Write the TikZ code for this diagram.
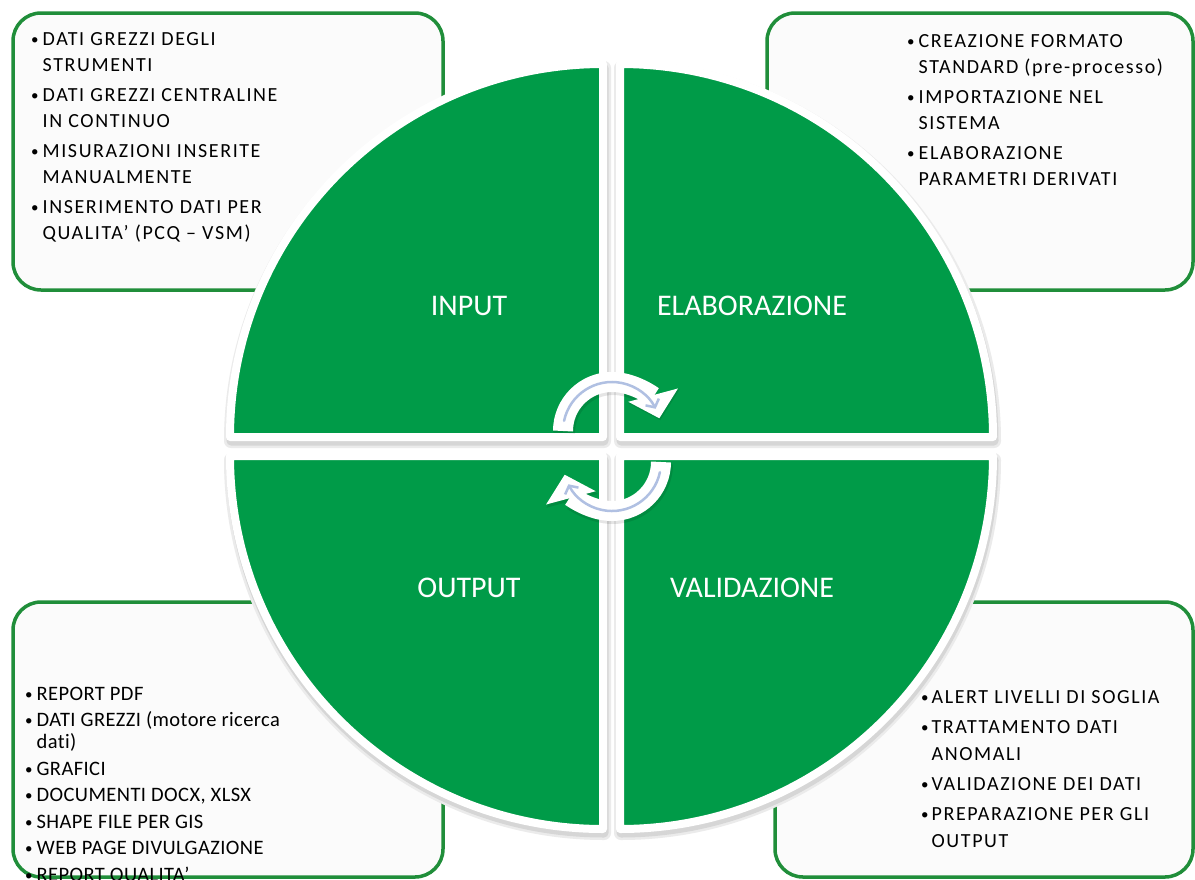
\documentclass[tikz,border=0pt]{standalone}
\usepackage{fontspec}
\setmainfont{Carlito}[Ligatures=NoCommon]
\newfontfamily\bodyf[LetterSpace=8,Ligatures=NoCommon]{Carlito}
\newfontfamily\bodyg[LetterSpace=2,Ligatures=NoCommon]{Carlito}
\usetikzlibrary{arrows.meta}
\definecolor{qgreen}{RGB}{0,155,72}
\definecolor{bgreen}{RGB}{32,142,58}
\definecolor{ablue}{RGB}{176,192,226}
\newcommand{\bul}{\raisebox{1pt}{\fontsize{15}{15}\selectfont\textbullet}}
\begin{document}
\begin{tikzpicture}[x=1pt,y=-1pt,
  infobox/.style={draw=bgreen, line width=3.5pt, fill=black!1.5, rounded corners=28pt},
  quad/.style={draw=white, line width=8pt, fill=qgreen, line join=round},
  qshadowa/.style={draw=black!8, line width=14pt, fill=black!8, line join=round},
  qshadowb/.style={draw=black!16, line width=9pt, fill=black!16, line join=round},
  lbl/.style={text=white, font=\fontsize{30}{36}\selectfont, anchor=base, inner sep=0pt},
  txt/.style={anchor=base west, inner sep=0pt, align=left},
  warrow/.style={white, line width=20pt, -{Triangle[length=24pt,width=50pt]}},
  sarrow/.style={black, opacity=0.10, line width=22pt, -{Triangle[length=25pt,width=52pt]}},
  barrow/.style={ablue, line width=2.5pt, line cap=round, -{Straight Barb[length=6pt,width=15pt]}},
]
\useasboundingbox (0,0) rectangle (1195,879);
\fill[white] (0,0) rectangle (1195,879);

% info boxes
\draw[infobox] (13,13) rectangle (443,290);
\draw[infobox] (767,13) rectangle (1193,290);
\draw[infobox] (13,602) rectangle (443,877);
\draw[infobox] (775,602) rectangle (1193,877);

% texts
\node[txt] (tin) at (31,45) {\bodyf\fontsize{20}{26}\selectfont
\begin{tabular}[t]{@{}l@{\hspace{4pt}}l@{}}
\bul & DATI GREZZI DEGLI\\
 & STRUMENTI\\[4pt]
\bul & DATI GREZZI CENTRALINE\\
 & IN CONTINUO\\[4pt]
\bul & MISURAZIONI INSERITE\\
 & MANUALMENTE\\[4pt]
\bul & INSERIMENTO DATI PER\\
 & QUALITA’ (PCQ – VSM)
\end{tabular}};

\node[txt] (tel) at (907,47) {\bodyf\fontsize{20}{26}\selectfont
\begin{tabular}[t]{@{}l@{\hspace{4pt}}l@{}}
\bul & CREAZIONE FORMATO\\
 & STANDARD (pre-processo)\\[4pt]
\bul & IMPORTAZIONE NEL\\
 & SISTEMA\\[4pt]
\bul & ELABORAZIONE\\
 & PARAMETRI DERIVATI
\end{tabular}};

\node[txt] (tout) at (25,700) {\bodyg\fontsize{20.5}{22}\selectfont
\begin{tabular}[t]{@{}l@{\hspace{4pt}}l@{}}
\bul & REPORT PDF\\[4.5pt]
\bul & DATI GREZZI (motore ricerca\\
 & dati)\\[4.5pt]
\bul & GRAFICI\\[4.5pt]
\bul & DOCUMENTI DOCX, XLSX\\[4.5pt]
\bul & SHAPE FILE PER GIS\\[4.5pt]
\bul & WEB PAGE DIVULGAZIONE\\[4.5pt]
\bul & REPORT QUALITA’
\end{tabular}};

\node[txt] (tval) at (921,703) {\bodyf\fontsize{20}{27}\selectfont
\begin{tabular}[t]{@{}l@{\hspace{3pt}}l@{}}
\bul & ALERT LIVELLI DI SOGLIA\\[3pt]
\bul & TRATTAMENTO DATI\\
 & ANOMALI\\[3pt]
\bul & VALIDAZIONE DEI DATI\\[3pt]
\bul & PREPARAZIONE PER GLI\\
 & OUTPUT
\end{tabular}};

% quadrant shadows
\begin{scope}[shift={(1,4)}]
\foreach \st in {qshadowa,qshadowb}{
\path[\st] (603,437) -- (603,64) arc[start angle=270,end angle=180,radius=373] -- cycle;
\path[\st] (620,437) -- (620,64) arc[start angle=270,end angle=360,radius=373] -- cycle;
\path[\st] (603,456) -- (230,456) arc[start angle=180,end angle=90,radius=373] -- cycle;
\path[\st] (620,456) -- (993,456) arc[start angle=0,end angle=90,radius=373] -- cycle;
}
\end{scope}

% quadrants
\path[quad] (603,437) -- (603,64) arc[start angle=270,end angle=180,radius=373] -- cycle;
\path[quad] (620,437) -- (620,64) arc[start angle=270,end angle=360,radius=373] -- cycle;
\path[quad] (603,456) -- (230,456) arc[start angle=180,end angle=90,radius=373] -- cycle;
\path[quad] (620,456) -- (993,456) arc[start angle=0,end angle=90,radius=373] -- cycle;

% labels
\node[lbl] (input) at (469,315) {INPUT};
\node[lbl] (elab) at (752,315) {ELABORAZIONE};
\node[lbl] (output) at (469,597) {OUTPUT};
\node[lbl] (valid) at (752,597) {VALIDAZIONE};

% cycle arrows
\draw[sarrow] (613,433) ++(180:49) arc[start angle=180,end angle=345,radius=49];
\draw[sarrow] (613,464) ++(0:49) arc[start angle=0,end angle=165,radius=49];
\draw[warrow] (612,431) ++(180:49) arc[start angle=180,end angle=345,radius=49];
\draw[warrow] (612,462) ++(0:49) arc[start angle=0,end angle=165,radius=49];
\draw[barrow] (612,431) ++(192:49) arc[start angle=192,end angle=333,radius=49];
\draw[barrow] (612,462) ++(12:49) arc[start angle=12,end angle=153,radius=49];
\end{tikzpicture}
\end{document}
